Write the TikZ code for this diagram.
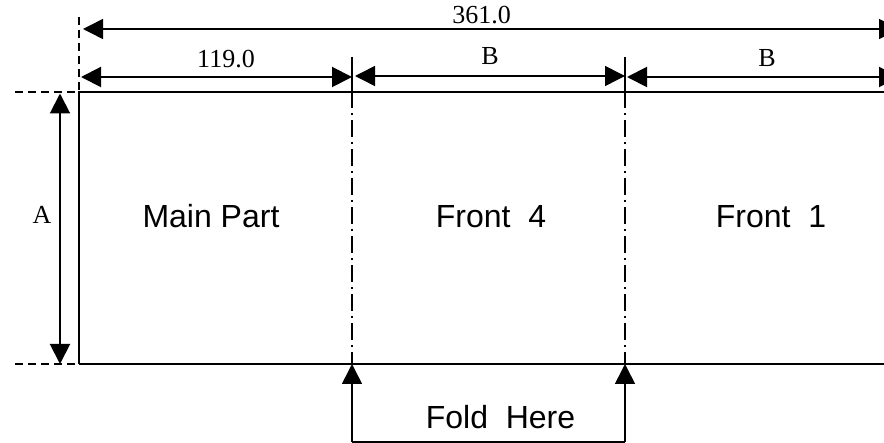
\documentclass[tikz,border=0pt]{standalone}
\usepackage{fontspec}
\setmainfont{Liberation Serif}
\newfontfamily\labelsans{Liberation Sans}
\usetikzlibrary{arrows.meta}
\tikzset{
  x=1pt,y=-1pt,
  dim/.style={line width=2pt,{Triangle[length=20pt,width=20pt]}-{Triangle[length=20pt,width=20pt]}},
  dimthin/.style={line width=1.5pt,{Triangle[length=20pt,width=20pt]}-{Triangle[length=20pt,width=20pt]}},
  up/.style={line width=1.6pt,-{Triangle[length=20pt,width=20pt]}},
  edge/.style={line width=1.7pt},
  ext/.style={line width=1.4pt,dash pattern=on 8pt off 5pt},
  fold/.style={line width=1.6pt,dash pattern=on 2.5pt off 5pt on 16.5pt off 5pt},
  tick/.style={line width=1.6pt},
  serif/.style={font=\fontsize{26}{26}\selectfont,inner sep=0pt,anchor=base},
  sans/.style={font=\labelsans\fontsize{32}{32}\selectfont,inner sep=0pt,anchor=base},
}
\begin{document}
\begin{tikzpicture}
\useasboundingbox (0,0) rectangle (884,443);
\clip (0,0) rectangle (884,443);
\coordinate (TL) at (79,92);
\coordinate (TR) at (890,92);
\coordinate (BL) at (79,364);
\coordinate (BR) at (890,364);
\coordinate (F1T) at (352,57);
\coordinate (F1K) at (352,108);
\coordinate (F1D) at (352,113);
\coordinate (F1B) at (352,364);
\coordinate (F2T) at (625,57);
\coordinate (F2K) at (625,108);
\coordinate (F2D) at (625,113);
\coordinate (F2B) at (625,364);
\draw[edge] (BL) -- (TL) -- (TR);
\draw[edge] (BL) -- (BR);
\coordinate (DT) at (79,17);
\draw[ext] (DT) -- (TL);
\coordinate (H1a) at (15,92);
\coordinate (H2a) at (15,364);
\draw[ext] (H1a) -- (TL);
\draw[ext] (H2a) -- (BL);
\draw[tick] (F1T) -- (F1K);
\draw[tick] (F2T) -- (F2K);
\draw[fold] (F1D) -- (F1B);
\draw[fold] (F2D) -- (F2B);
% dimensions
\coordinate (T1) at (83,29);
\coordinate (T2) at (899,29);
\draw[dimthin] (T1) -- (T2);
\coordinate (M1) at (81,77);
\coordinate (M2) at (352,77);
\draw[dim] (M1) -- (M2);
\coordinate (M3) at (355,76);
\coordinate (M4) at (625,76);
\draw[dimthin] (M3) -- (M4);
\coordinate (M5) at (627,77);
\coordinate (M6) at (899,77);
\draw[dim] (M5) -- (M6);
\coordinate (A1) at (60,93.5);
\coordinate (A2) at (60,364);
\draw[dim] (A1) -- (A2);
% fold arrows
\coordinate (C1) at (352,442);
\coordinate (C2) at (625,442);
\draw[up] (C1) -- (F1B);
\draw[up] (C2) -- (F2B);
\draw[edge] (C1) -- (C2);
% labels
\node[serif] (l361) at (481.5,24) {361.0};
\node[serif] (l119) at (226,68) {119.0};
\node[serif] (lB1) at (490,64.5) {B};
\node[serif] (lB2) at (767,67) {B};
\node[serif] (lA) at (42,224) {A};
\node[sans] (main) at (211,228) {Main Part};
\node[sans] (f4) at (491,228) {Front\ \ 4};
\node[sans] (f1) at (771,228) {Front\ \ 1};
\node[sans] (here) at (500.5,428.5) {Fold\ \ Here};
\end{tikzpicture}
\end{document}
